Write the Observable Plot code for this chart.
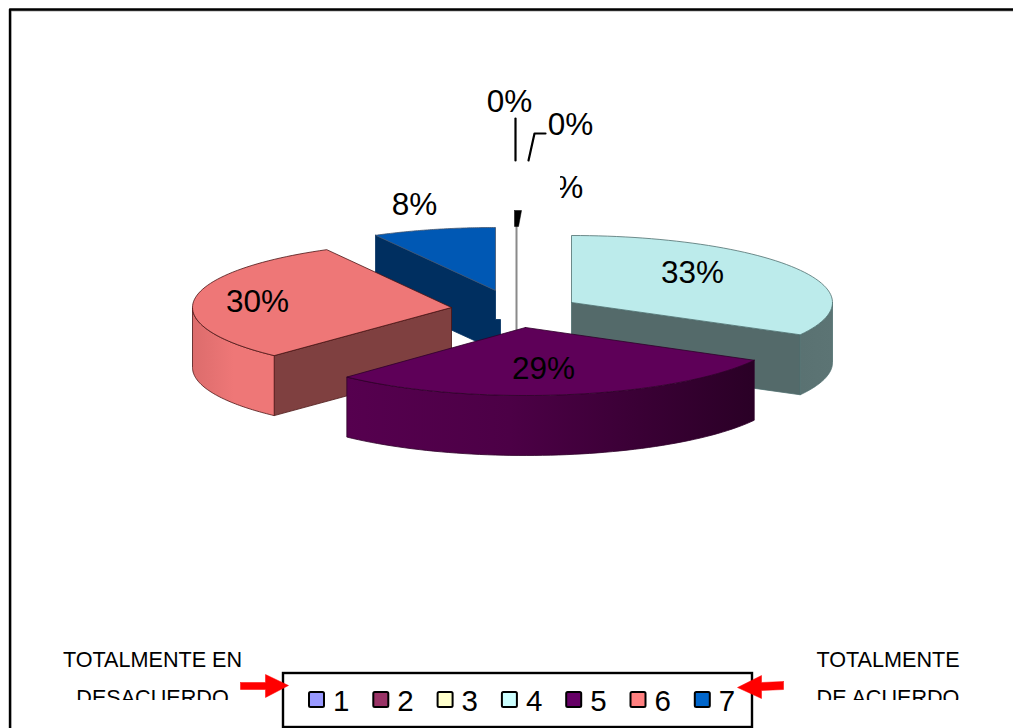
<!DOCTYPE html>
<html lang="es">
<head>
<meta charset="utf-8">
<style>html,body{margin:0;padding:0;background:#fff;overflow:hidden}svg{display:block}</style>
<script src="https://cdn.jsdelivr.net/npm/d3@7"></script>
<script src="https://cdn.jsdelivr.net/npm/@observablehq/plot@0.6"></script>
</head>
<body>
<script>
// ---- data
const categories = ["1", "2", "3", "4", "5", "6", "7"];
const shares     = [0, 0, 0, 33, 29, 30, 8];
const swatches   = ["#9999ff", "#993366", "#ffffcc", "#ccffff", "#660066", "#ff8080", "#0066cc"];

// ---- per-slice drawing layout (exploded 3D pie)
const apexX  = [516, 516, 516, 571, 525, 451, 495];
const apexY  = [327, 327, 327, 302, 327, 307, 290];
const radX   = [0, 0, 0, 261, 261, 259, 249];
const radY   = [0, 0, 0, 67, 68, 66, 63];
const tops   = [null, null, null, "#bcebeb", "#5e0058", "#ee7777", "#0058b4"];
const edges  = [null, null, null, "#4f6f6f", "#2e002a", "#4a1414", "#44566e"];
const walls  = [null, null, null, "#546a6a", null, "#7f4040", "#002f60"];
const outers = [null, null, null, "url(#wallCyan)", "url(#wallPurple)", "url(#wallPink)", null];
const depth  = 60;
const paintOrder = [6, 3, 5, 4];

const labelText = shares.map(v => `${v}%`);
const labelX = [509, 570, 560, 692, 543, 257, 414];
const labelY = [111, 134, 197, 282, 378, 311, 214];

const legendFirst = 309, legendStep = 64.3;

// ---- slice geometry from the shares
const cumulative = d3.cumsum(shares);
const rim = (i, a) => ({
  x: apexX[i] + radX[i] * Math.sin(a * 2 * Math.PI / 100),
  y: apexY[i] - radY[i] * Math.cos(a * 2 * Math.PI / 100)
});
const arc = (i, a0, a1) => d3.range(61).map(k => rim(i, a0 + (a1 - a0) * k / 60));
const drop = p => ({x: p.x, y: p.y + depth});
const closed = pts => [...pts, pts[0]];
const face = (pts, fill, stroke) =>
  Plot.line(closed(pts), {x: "x", y: "y", fill, stroke, strokeWidth: 0.8, strokeLinejoin: "round"});

const sliceMarks = [];
for (const i of paintOrder) {
  const a0 = cumulative[i] - shares[i], a1 = cumulative[i];
  const apex = {x: apexX[i], y: apexY[i]};
  // inner wall facing the viewer
  if (i === 3) {
    const e = rim(i, a1);
    sliceMarks.push(face([apex, e, drop(e), drop(apex)], walls[i], edges[i]));
  }
  if (i === 5) {
    const s = rim(i, a0);
    sliceMarks.push(face([apex, s, drop(s), drop(apex)], walls[i], edges[i]));
  }
  if (i === 6) {
    const s = rim(i, a0);
    sliceMarks.push(face([s, apex, {x: apex.x, y: 319}, {x: apex.x + 5, y: 319}, {x: apex.x + 5, y: 352}, drop(s)], walls[i], walls[i]));
  }
  // visible outer wall, front half only
  const from = Math.max(a0, 25), to = Math.min(a1, 75);
  if (outers[i] && to > from) {
    const top = arc(i, from, to);
    sliceMarks.push(face([...top, ...top.slice().reverse().map(drop)], outers[i], edges[i]));
  }
  // top face
  sliceMarks.push(face([apex, ...arc(i, a0, a1)], tops[i], edges[i]));
}

const gradient = (id, stops) => `<linearGradient id="${id}" x1="0" x2="1" y1="0" y2="0">` +
  stops.map(([o, c]) => `<stop offset="${o}" stop-color="${c}"/>`).join("") + `</linearGradient>`;
const defsMark = () => {
  const g = document.createElementNS("http://www.w3.org/2000/svg", "defs");
  g.innerHTML =
    gradient("wallPurple", [[0, "#56004f"], [0.4, "#4c0046"], [1, "#2a0026"]]) +
    gradient("wallPink", [[0, "#dc6c6c"], [0.5, "#ee7777"], [1, "#ee7777"]]) +
    gradient("wallCyan", [[0, "#5a7272"], [1, "#5c7474"]]);
  return g;
};

// ---- labels and annotation text
const textFont = {fontFamily: "'Liberation Sans', Arial, sans-serif", fill: "#000", lineAnchor: "bottom", stroke: "none"};
const sideText  = ["TOTALMENTE EN", "DESACUERDO", "TOTALMENTE", "DE ACUERDO"];
const sideX     = [152, 152, 887.5, 887.5];
const sideY     = [666, 704, 666, 704];
const labelRows = labelText.map((t, i) => ({t, x: labelX[i], y: labelY[i]}));
const sideRows  = sideText.map((t, i) => ({t, x: sideX[i], y: sideY[i]}));
const legendRows = categories.map((c, i) => ({c, color: swatches[i], x: legendFirst + i * legendStep}));

const poly = pts => pts.map(([x, y]) => ({x, y}));
const plot = Plot.plot({
  width: 1013, height: 728,
  marginTop: 0, marginRight: 0, marginBottom: 0, marginLeft: 0,
  x: {domain: [0, 1013], range: [0, 1013], axis: null},
  y: {domain: [0, 728], range: [0, 728], axis: null},
  style: {background: "#fff"},
  marks: [
    defsMark,
    // outer frame (open on the right and bottom)
    Plot.line(poly([[1013, 10], [10, 10], [10, 728]]), {x: "x", y: "y", stroke: "#aaa", strokeWidth: 2}),
    Plot.line(poly([[1013, 9], [9.5, 9], [9.5, 728]]), {x: "x", y: "y", stroke: "#000", strokeWidth: 2.4}),
    // zero-share slices: thin wall, wedge and leaders
    Plot.line(poly([[516, 226], [516, 330]]), {x: "x", y: "y", stroke: "#8a8a8a", strokeWidth: 2}),
    Plot.line(poly([[514, 210], [521, 210], [518, 226], [514, 226], [514, 210]]), {x: "x", y: "y", fill: "#000", stroke: "#000", strokeWidth: 0.5}),
    Plot.line(poly([[515, 118], [515, 160]]), {x: "x", y: "y", stroke: "#000", strokeWidth: 2.2}),
    Plot.line(poly([[528, 160], [534, 133], [545, 133]]), {x: "x", y: "y", stroke: "#000", strokeWidth: 2.2}),
    ...sliceMarks,
    // slice labels
    Plot.text(labelRows, {x: "x", y: "y", text: "t", fontSize: 31.5, ...textFont}),
    Plot.rect([{a: 530, b: 560, c: 170, d: 200}], {x1: "a", x2: "b", y1: "c", y2: "d", fill: "#fff"}),
    // side captions, cut by the legend's strip
    Plot.text(sideRows, {x: "x", y: "y", text: "t", fontSize: 21.6, ...textFont}),
    Plot.rect([{a: 60, b: 245, c: 700, d: 728}, {a: 800, b: 970, c: 700, d: 728}], {x1: "a", x2: "b", y1: "c", y2: "d", fill: "#fff"}),
    // legend
    Plot.rect([{a: 283, b: 752, c: 673, d: 727}], {x1: "a", x2: "b", y1: "c", y2: "d", fill: "#fff", stroke: "#000", strokeWidth: 2.4}),
    Plot.rect(legendRows, {x1: "x", x2: d => d.x + 15, y1: () => 692, y2: () => 707, fill: "color", stroke: "#000", strokeWidth: 2, rx: 1.5}),
    Plot.text(legendRows, {x: d => d.x + 23.5, y: () => 710, text: "c", fontSize: 29.5, textAnchor: "start", ...textFont}),
    // arrows, lying over the legend's edge
    Plot.line(poly([[240, 682], [265, 682], [265, 674], [288, 685], [265, 697], [265, 689], [240, 689], [240, 682]]), {x: "x", y: "y", fill: "#ff0000", stroke: "#ff0000", strokeWidth: 0.5}),
    Plot.line(poly([[783, 681], [761, 682], [761, 675], [737, 687], [761, 698], [761, 690], [783, 689], [783, 681]]), {x: "x", y: "y", fill: "#ff0000", stroke: "#ff0000", strokeWidth: 0.5})
  ]
});
document.body.appendChild(plot);
</script>
</body>
</html>
